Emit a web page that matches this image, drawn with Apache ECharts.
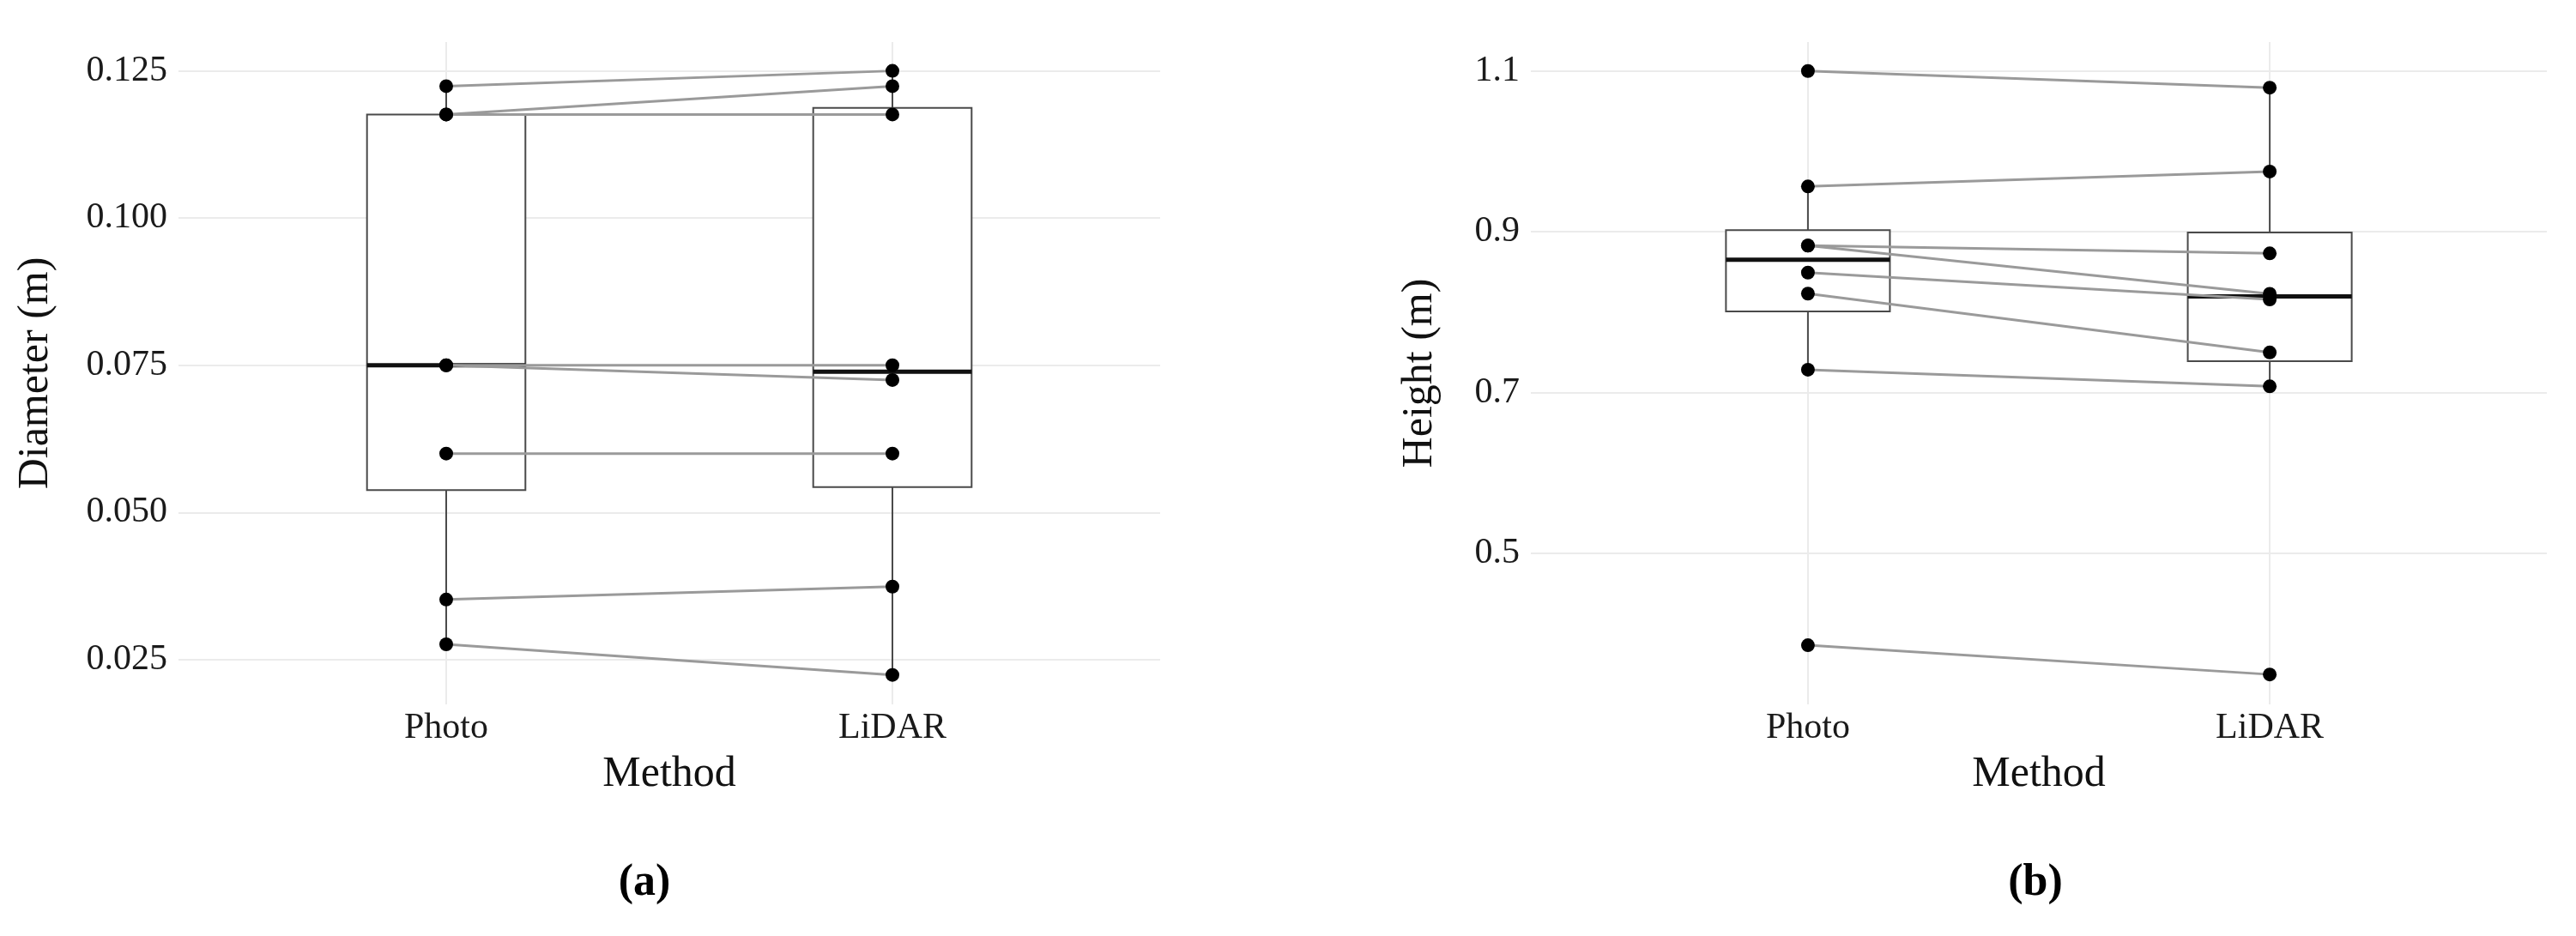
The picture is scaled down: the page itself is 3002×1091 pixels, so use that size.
<!DOCTYPE html>
<html>
<head>
<meta charset="utf-8">
<script src="https://cdn.jsdelivr.net/npm/echarts@6/dist/echarts.min.js"></script>
<style>
  html, body { margin: 0; padding: 0; background: #fff; }
  #chart { width: 3002px; height: 1091px; }
</style>
</head>
<body>
<div id="chart"></div>
<script>
// ---------- data ----------
const categories = ['Photo', 'LiDAR'];

// (a) Diameter (m): paired trees, Photo -> LiDAR
const diamPhoto = [0.1224, 0.1176, 0.1176, 0.0750, 0.0750, 0.0600, 0.0352, 0.0276];
const diamLidar = [0.1250, 0.1224, 0.1176, 0.0750, 0.0725, 0.0600, 0.0374, 0.0224];
// box statistics [lower whisker, Q1, median, Q3, upper whisker]
const diamBoxPhoto = [0.0276, 0.0538, 0.0750, 0.1176, 0.1224];
const diamBoxLidar = [0.0224, 0.0543, 0.0739, 0.1187, 0.1250];
const diamTicks = [0.025, 0.050, 0.075, 0.100, 0.125];

// (b) Height (m)
const heightPhoto = [1.1000, 0.9564, 0.8829, 0.8829, 0.8493, 0.8232, 0.7286, 0.3860];
const heightLidar = [1.0793, 0.9750, 0.8732, 0.8230, 0.8160, 0.7500, 0.7079, 0.3497];
const heightBoxPhoto = [0.7286, 0.8011, 0.8654, 0.9020, 0.9564];
const heightBoxLidar = [0.7079, 0.7393, 0.8196, 0.8993, 1.0793];
const heightTicks = [0.5, 0.7, 0.9, 1.1];

// ---------- styling ----------
const FONT = "'Liberation Serif', 'Times New Roman', serif";
const BOX_WIDTH = 0.355;        // in category units
const BOX_STROKE = '#4a4a4a';
const GRID_COLOR = '#ebebeb';
const PAIR_COLOR = '#9a9a9a';

function boxRender(params, api) {
  const x = api.value(0);
  const p = [1, 2, 3, 4, 5].map(d => api.coord([x, api.value(d)]));
  const half = api.size([BOX_WIDTH, 0])[0] / 2;
  const cx = p[0][0];
  return {
    type: 'group',
    children: [
      { type: 'line', shape: { x1: cx, y1: p[0][1], x2: cx, y2: p[1][1] },
        style: { stroke: BOX_STROKE, lineWidth: 2 } },
      { type: 'line', shape: { x1: cx, y1: p[3][1], x2: cx, y2: p[4][1] },
        style: { stroke: BOX_STROKE, lineWidth: 2 } },
      { type: 'rect', shape: { x: cx - half, y: p[3][1], width: 2 * half, height: p[1][1] - p[3][1] },
        style: { fill: '#ffffff', stroke: BOX_STROKE, lineWidth: 2 } },
      { type: 'line', shape: { x1: cx - half, y1: p[2][1], x2: cx + half, y2: p[2][1] },
        style: { stroke: '#111111', lineWidth: 5 } }
    ]
  };
}

function makeXAxis(gridIndex) {
  return {
    gridIndex: gridIndex,
    type: 'value',
    min: 0.4, max: 2.6,
    axisLine: { show: false },
    axisTick: { show: false, customValues: [1, 2] },
    axisLabel: {
      customValues: [1, 2],
      formatter: v => categories[Math.round(v) - 1],
      fontSize: 42, fontFamily: FONT, color: '#1a1a1a', margin: 7
    },
    splitLine: { show: true, lineStyle: { color: GRID_COLOR, width: 2 } },
    name: 'Method', nameLocation: 'middle', nameGap: 57,
    nameTextStyle: { fontSize: 50, fontFamily: FONT, color: '#111' }
  };
}

function makeYAxis(gridIndex, min, max, ticks, digits, name, gap) {
  return {
    gridIndex: gridIndex,
    type: 'value',
    min: min, max: max,
    axisLine: { show: false },
    axisTick: { show: false, customValues: ticks },
    axisLabel: {
      customValues: ticks,
      formatter: v => Number(v).toFixed(digits),
      fontSize: 42, fontFamily: FONT, color: '#1a1a1a', margin: 13
    },
    splitLine: { show: true, lineStyle: { color: GRID_COLOR, width: 2 } },
    name: name, nameLocation: 'middle', nameGap: gap,
    nameTextStyle: { fontSize: 50, fontFamily: FONT, color: '#111' }
  };
}

function panelSeries(idx, photo, lidar, boxPhoto, boxLidar) {
  const s = [];
  s.push({
    type: 'custom', xAxisIndex: idx, yAxisIndex: idx, z: 1, silent: true,
    data: [[1].concat(boxPhoto), [2].concat(boxLidar)],
    encode: { x: 0, y: [1, 2, 3, 4, 5] },
    renderItem: boxRender
  });
  photo.forEach((v, i) => {
    s.push({
      type: 'line', xAxisIndex: idx, yAxisIndex: idx, z: 2, silent: true,
      symbol: 'none',
      data: [[1, v], [2, lidar[i]]],
      lineStyle: { color: PAIR_COLOR, width: 3 }
    });
  });
  s.push({
    type: 'scatter', xAxisIndex: idx, yAxisIndex: idx, z: 3, silent: true,
    symbolSize: 16,
    itemStyle: { color: '#000', opacity: 1 },
    data: photo.map(v => [1, v]).concat(lidar.map(v => [2, v]))
  });
  return s;
}

const chart = echarts.init(document.getElementById('chart'), null, { renderer: 'canvas' });
chart.setOption({
  animation: false,
  backgroundColor: '#ffffff',
  grid: [
    { left: 208, top: 49, width: 1144, height: 772 },
    { left: 1784, top: 49, width: 1184, height: 772 }
  ],
  xAxis: [makeXAxis(0), makeXAxis(1)],
  yAxis: [
    makeYAxis(0, 0.0174, 0.1299, diamTicks, 3, 'Diameter (m)', 141),
    makeYAxis(1, 0.3125, 1.136, heightTicks, 1, 'Height (m)', 104)
  ],
  series: [].concat(
    panelSeries(0, diamPhoto, diamLidar, diamBoxPhoto, diamBoxLidar),
    panelSeries(1, heightPhoto, heightLidar, heightBoxPhoto, heightBoxLidar)
  ),
  graphic: [
    { type: 'text', x: 751, y: 1030,
      style: { text: '(a)', font: "bold 52px 'Liberation Serif', serif", fill: '#000',
               align: 'center', verticalAlign: 'middle', textAlign: 'center', textVerticalAlign: 'middle' } },
    { type: 'text', x: 2372, y: 1030,
      style: { text: '(b)', font: "bold 52px 'Liberation Serif', serif", fill: '#000',
               align: 'center', verticalAlign: 'middle', textAlign: 'center', textVerticalAlign: 'middle' } }
  ]
});
</script>
</body>
</html>
